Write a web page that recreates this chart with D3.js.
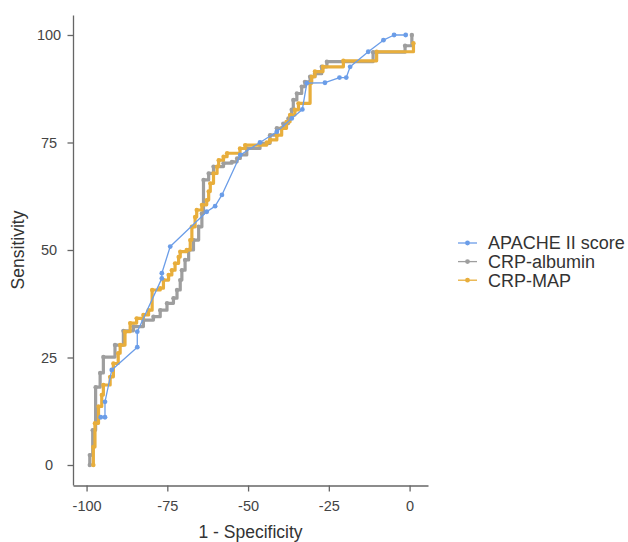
<!DOCTYPE html>
<html>
<head>
<meta charset="utf-8">
<script src="https://cdn.jsdelivr.net/npm/d3@7"></script>
<style>
  html, body { margin: 0; padding: 0; background: #fff; }
  svg { display: block; font-family: "Liberation Sans", Arial, sans-serif; }
</style>
</head>
<body>
<svg id="chart" width="628" height="542"></svg>
<script>
// ---- data (x = "1 - Specificity", y = Sensitivity) ----
const seriesNames = ["APACHE II score", "CRP-albumin", "CRP-MAP"];
const seriesColors = ["#6B9DE8", "#9E9E9E", "#E8AE3C"];

const apacheX = [-95.6, -94.3, -94.3, -92.2, -84.3, -84.3, -76.7, -76.7, -74.1, -62.8, -60.2, -58.1, -52.4, -46.3, -41.1, -36.5, -33.2, -31.8, -26.2, -21.7, -19.6, -18.4, -12.8, -8.1, -4.8, -1.2];
const apacheY = [11.1, 11.1, 14.7, 22.1, 27.4, 31.0, 43.4, 44.6, 50.8, 58.9, 60.2, 62.8, 72.1, 75.0, 77.5, 80.6, 82.7, 88.8, 88.9, 90.1, 90.1, 92.6, 96.1, 98.8, 100, 100];

const albuminX = [-99.0, -99.0, -98.1, -97.2, -95.8, -94.8, -91.2, -88.6, -85.5, -82.4, -79.3, -77.2, -75.1, -73.1, -72.0, -71.0, -70.5, -69.5, -68.4, -66.9, -65.3, -64.3, -63.8, -62.2, -60.7, -57.6, -55.0, -53.4, -52.4, -50.4, -46.3, -43.2, -41.1, -39.1, -37.5, -36.5, -36.0, -34.9, -33.4, -32.4, -30.8, -29.3, -27.2, -25.6, -11.3, -1.4, 0.7];
const albuminY = [0, 2.3, 8.1, 18.1, 21.4, 25.1, 27.9, 31.2, 32.2, 33.7, 34.5, 36.0, 37.6, 38.8, 40.7, 43.0, 45.3, 47.7, 50.0, 52.3, 55.4, 58.5, 66.3, 67.8, 69.4, 70.2, 70.5, 71.3, 72.1, 73.6, 74.8, 76.7, 78.3, 79.4, 80.6, 82.6, 84.9, 86.4, 88.0, 89.1, 90.3, 91.0, 92.6, 93.8, 96.0, 97.5, 100];

const mapX = [-97.9, -97.9, -97.4, -96.3, -95.3, -94.8, -92.7, -91.7, -90.2, -89.6, -88.1, -86.5, -84.5, -82.4, -80.8, -79.7, -77.2, -76.2, -74.6, -73.6, -72.6, -71.5, -71.0, -69.0, -67.9, -67.4, -66.4, -65.9, -64.3, -62.8, -62.2, -61.7, -60.7, -59.6, -59.1, -57.6, -56.5, -52.5, -50.9, -44.2, -43.2, -41.1, -39.6, -38.1, -37.0, -35.5, -34.4, -30.8, -30.3, -29.3, -26.8, -20.5, -10.2, 1.2];
const mapY = [0, 4.2, 9.7, 13.6, 16.3, 18.6, 20.5, 23.6, 26.0, 27.9, 31.0, 33.0, 34.1, 34.9, 36.0, 40.7, 41.1, 43.0, 44.2, 45.3, 46.9, 48.4, 49.6, 50.0, 52.3, 55.4, 57.7, 59.3, 60.5, 61.6, 63.6, 65.5, 67.8, 69.4, 70.9, 71.7, 72.5, 73.6, 74.4, 75.0, 75.6, 76.7, 78.3, 79.8, 81.4, 82.6, 84.1, 88.8, 90.3, 91.5, 92.6, 94.0, 96.1, 98.1];

const xTicks = [-100, -75, -50, -25, 0];
const yTicks = [0, 25, 50, 75, 100];

// ---- chart ----
const svg = d3.select("#chart");
const x = d3.scaleLinear().domain([-104.2, 5.7]).range([73, 428]);
const y = d3.scaleLinear().domain([-4.65, 104.65]).range([485, 15]);

const zip = (xs, ys) => xs.map((v, i) => [v, ys[i]]);
const series = [
  { name: seriesNames[1], color: seriesColors[1], pts: zip(albuminX, albuminY), step: true },
  { name: seriesNames[2], color: seriesColors[2], pts: zip(mapX, mapY), step: true },
  { name: seriesNames[0], color: seriesColors[0], pts: zip(apacheX, apacheY), step: false }
];

series.forEach(s => {
  const line = d3.line().x(d => x(d[0])).y(d => y(d[1]))
    .curve(s.step ? d3.curveStepAfter : d3.curveLinear);
  svg.append("path").attr("d", line(s.pts))
    .attr("fill", "none").attr("stroke", s.color)
    .attr("stroke-width", s.step ? 3.2 : 1.3)
    .attr("stroke-linejoin", "round");
  svg.append("g").selectAll("circle").data(s.pts).join("circle")
    .attr("cx", d => x(d[0])).attr("cy", d => y(d[1]))
    .attr("r", s.step ? 2.2 : 2.4).attr("fill", s.color);
});

// axes
const axisColor = "#666";
const fmt = d => String(d);
const gx = svg.append("g").attr("transform", "translate(0,485.5)")
  .call(d3.axisBottom(x).tickValues(xTicks).tickSize(6).tickSizeOuter(0).tickPadding(9)
        .tickFormat(fmt));
const gy = svg.append("g").attr("transform", "translate(73,0)")
  .call(d3.axisLeft(y).tickValues(yTicks).tickSize(5.5).tickSizeOuter(0).tickPadding(5)
        .tickFormat(fmt));
[gx, gy].forEach(g => {
  g.select(".domain").attr("stroke", axisColor).attr("stroke-width", 1.3);
  g.selectAll(".tick line").attr("stroke", axisColor).attr("stroke-width", 1.3);
  g.selectAll(".tick text").attr("fill", "#444").attr("font-size", 14.5)
    .attr("font-family", "'Liberation Sans', Arial, sans-serif");
});
gy.selectAll(".tick text").attr("text-anchor", "middle").attr("x", -24);

svg.append("text").attr("x", 250.5).attr("y", 538)
  .attr("text-anchor", "middle").attr("font-size", 17.5).attr("fill", "#333")
  .text("1 - Specificity");
svg.append("text").attr("transform", "translate(24,250) rotate(-90)")
  .attr("text-anchor", "middle").attr("font-size", 17.5).attr("fill", "#333")
  .text("Sensitivity");

// legend
const legendOrder = [0, 1, 2];
const lg = svg.append("g");
legendOrder.forEach((k, i) => {
  const cy = 243 + i * 18.6;
  lg.append("line").attr("x1", 458).attr("x2", 477).attr("y1", cy).attr("y2", cy)
    .attr("stroke", seriesColors[k]).attr("stroke-width", 1.3);
  lg.append("circle").attr("cx", 467.5).attr("cy", cy).attr("r", 2.4).attr("fill", seriesColors[k]);
  lg.append("text").attr("x", 488).attr("y", cy).attr("dy", "0.36em")
    .attr("font-size", 18).attr("fill", "#333").text(seriesNames[k]);
});
</script>
</body>
</html>
